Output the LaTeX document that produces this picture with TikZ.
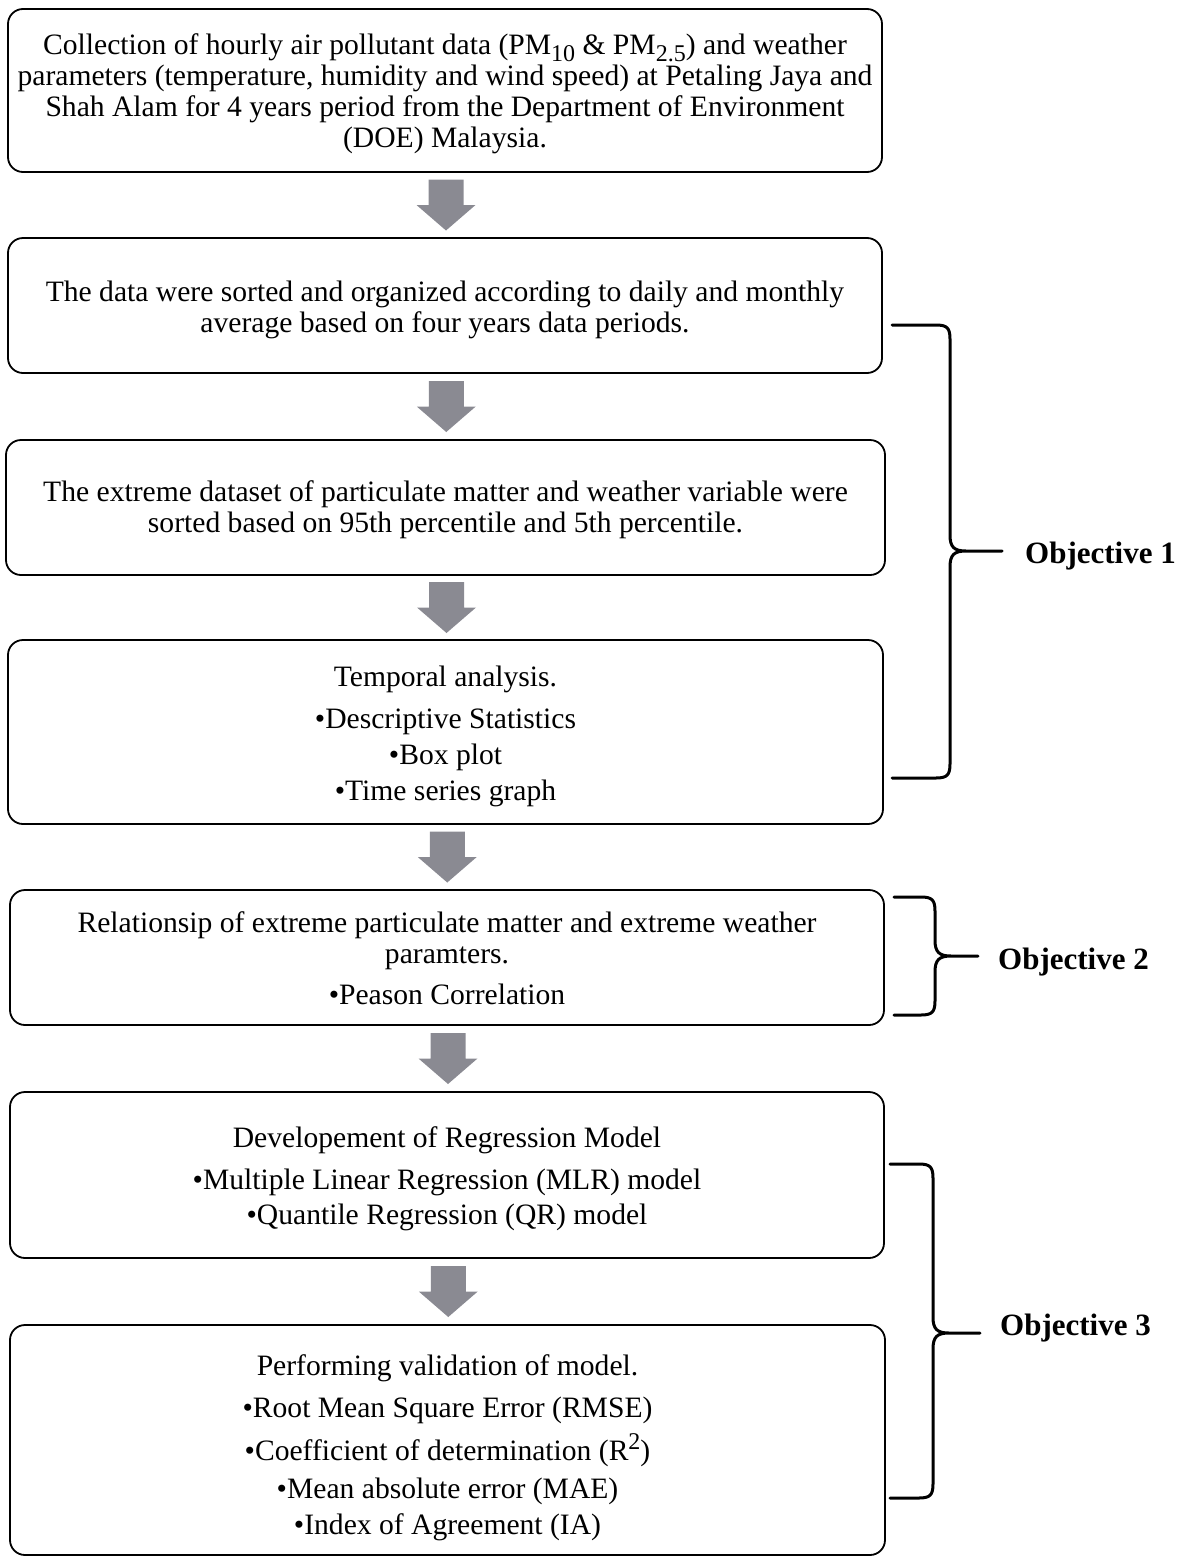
\documentclass[tikz,border=0pt]{standalone}
\usepackage{fontspec}
\setmainfont{Liberation Serif}
\usetikzlibrary{calc}
\definecolor{arrowgray}{RGB}{138,138,146}
\newcommand{\sbx}[1]{\raisebox{-7pt}[0pt][0pt]{\fontsize{24}{24}\selectfont #1}}
\newcommand{\spx}[1]{\raisebox{11pt}[0pt][0pt]{\fontsize{24}{24}\selectfont #1}}
\newcommand{\garrow}[2]{\fill[arrowgray, shift={($(#1.south)!0.5!(#2.north)+(1,0)$)}] (-17.5,-25.5) -- (17.5,-25.5) -- (17.5,0) -- (29.5,0) -- (0,25.5) -- (-29.5,0) -- (-17.5,0) -- cycle;}
\newcommand{\objbrace}[6]{\draw[brace] (#1,#4) -- ({#2-14},#4) .. controls ({#2-3},#4) and (#2,{#4+3}) .. (#2,{#4+14}) -- (#2,{#5-16}) .. controls (#2,{#5-4}) and ({#2+4},#5) .. ({#2+16},#5) -- (#3,#5) ({#2+16},#5) .. controls ({#2+4},#5) and (#2,{#5+4}) .. (#2,{#5+16}) -- (#2,{#6-14}) .. controls (#2,{#6-3}) and ({#2-3},#6) .. ({#2-14},#6) -- (#1,#6);}
\begin{document}
\begin{tikzpicture}[x=1pt,y=-1pt,
  box/.style={draw, line width=1.8pt, rounded corners=15pt, inner sep=0pt, outer sep=0pt},
  txt/.style={inner sep=0pt, align=center, font=\fontsize{29.6}{31}\selectfont},
  brace/.style={line width=3pt, line join=round, line cap=round},
  lbl/.style={font=\fontsize{31}{33}\selectfont\bfseries, anchor=base west, inner sep=0pt}]
\useasboundingbox (0,0) rectangle (1185,1558);

\node[box, minimum width=874pt, minimum height=163pt] (b1) at (445,90.5) {};
\node[txt] (t1) at ($(b1.center)+(0,3.5)$)
 {Collection of hourly air pollutant data (PM\sbx{10} \& PM\sbx{2.5}) and weather\\
  parameters (temperature, humidity and wind speed) at Petaling Jaya and\\
  Shah Alam for 4 years period from the Department of Environment\\
  (DOE) Malaysia.};
\node[box, minimum width=874pt, minimum height=135pt] (b2) at (445,305.5) {};
\node[txt] (t2) at ($(b2.center)+(0,4)$)
 {The data were sorted and organized according to daily and monthly\\
  average based on four years data periods.};
\node[box, minimum width=879pt, minimum height=135pt] (b3) at (445.5,507.5) {};
\node[txt] (t3) at ($(b3.center)+(0,2)$)
 {The extreme dataset of particulate matter and weather variable were\\
  sorted based on 95th percentile and 5th percentile.};
\node[box, minimum width=875pt, minimum height=184pt] (b4) at (445.5,732) {};
\node[txt] (t4) at ($(b4.center)+(0,4)$)
 {Temporal analysis.\\[11pt]•Descriptive Statistics\\[5pt]•Box plot\\[5pt]•Time series graph};
\node[box, minimum width=874pt, minimum height=135pt] (b5) at (447,957.5) {};
\node[txt] (t5) at ($(b5.center)+(0,1)$)
 {Relationsip of extreme particulate matter and extreme weather\\
  paramters.\\[10pt]•Peason Correlation};
\node[box, minimum width=874pt, minimum height=166pt] (b6) at (447,1175) {};
\node[txt] (t6) at ($(b6.center)+(0,4)$)
 {Developement of Regression Model\\[11pt]•Multiple Linear Regression (MLR) model\\[4pt]•Quantile Regression (QR) model};
\node[box, minimum width=875pt, minimum height=230pt] (b7) at (447.5,1440) {};
\node[txt] (t7) at ($(b7.center)+(0,8)$)
 {Performing validation of model.\\[11pt]•Root Mean Square Error (RMSE)\\[12pt]•Coefficient of determination (R\spx{2})\\[7pt]•Mean absolute error (MAE)\\[5pt]•Index of Agreement (IA)};

\garrow{b1}{b2}
\garrow{b2}{b3}
\garrow{b3}{b4}
\garrow{b4}{b5}
\garrow{b5}{b6}
\garrow{b6}{b7}

\objbrace{892}{950}{1002}{325}{551}{778}
\objbrace{894}{935}{978}{897}{956}{1015}
\objbrace{890}{933}{980}{1164}{1333}{1498}

\node[lbl] (o1) at (1025,563) {Objective 1};
\node[lbl] (o2) at (998,969) {Objective 2};
\node[lbl] (o3) at (1000,1335) {Objective 3};
\end{tikzpicture}
\end{document}
